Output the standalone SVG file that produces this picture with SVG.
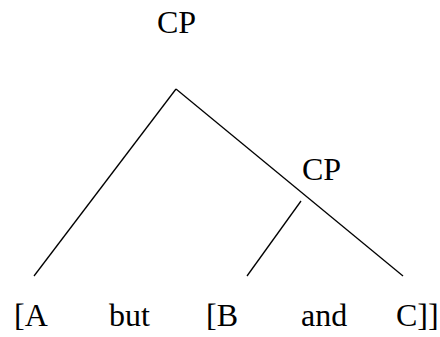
<svg xmlns="http://www.w3.org/2000/svg" width="440" height="337" viewBox="0 0 440 337">
<style>
text{font-family:"Liberation Serif","Times New Roman",serif;font-size:32px;fill:#000}
line{stroke:#000;stroke-width:1.3;fill:none}
</style>
<rect width="440" height="337" fill="#fff"/>
<g id="cp1"><text x="157" y="33">CP</text></g>
<g id="cp2"><text x="302" y="180">CP</text></g>
<g id="leafA"><text x="14" y="326">[A</text></g>
<g id="leafBut"><text x="109" y="326">but</text></g>
<g id="leafB"><text x="206" y="326">[B</text></g>
<g id="leafAnd"><text x="301" y="326">and</text></g>
<g id="leafC"><text x="396" y="326">C]]</text></g>
<g id="connectors">
<line x1="176" y1="89" x2="34" y2="276"/>
<line x1="176" y1="89" x2="403" y2="276"/>
<line x1="301" y1="201" x2="247" y2="276"/>
</g>
</svg>
